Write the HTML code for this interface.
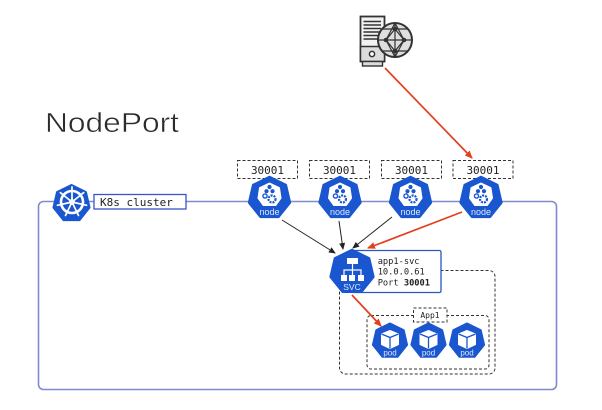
<!DOCTYPE html>
<html>
<head>
<meta charset="utf-8">
<style>
html,body{margin:0;padding:0;background:#fff;width:602px;height:410px;overflow:hidden}
svg{display:block;filter:blur(.25px)}
.m{font-family:"DejaVu Sans Mono","Liberation Mono",monospace;fill:#222}
.s{font-family:"Liberation Sans",sans-serif;fill:#dfe8fb;text-anchor:middle}
.h{fill:#1a56cf;stroke:#1a56cf;stroke-width:2.4;stroke-linejoin:round;vector-effect:non-scaling-stroke}
</style>
</head>
<body>
<svg width="602" height="410" viewBox="0 0 602 410" xmlns="http://www.w3.org/2000/svg">
<defs>
<polygon id="hep" class="h" points="0,-1 0.78,-0.62 0.975,0.22 0.43,0.9 -0.43,0.9 -0.975,0.22 -0.78,-0.62"/>
<g id="node">
  <use href="#hep" transform="scale(21)"/>
  <polygon points="0,-14.5 9.5,-10 11,0 6,7 -6,7 -11,0 -9.5,-10" fill="#fff" stroke="#fff" stroke-width="2" stroke-linejoin="round"/>
  <circle cx="0" cy="-11" r="2.1" fill="#1a56cf"/>
  <circle cx="-3" cy="-6.8" r="2.1" fill="#1a56cf"/>
  <circle cx="3" cy="-6.8" r="2.1" fill="#1a56cf"/>
  <circle cx="-4.5" cy="-2" r="2.1" fill="none" stroke="#1a56cf" stroke-width="1.4"/>
  <circle cx="2.5" cy="1" r="3.5" fill="none" stroke="#1a56cf" stroke-width="2.2" stroke-dasharray="2 1"/>
  <text class="s" x="0" y="17" font-size="9">node</text>
</g>
<g id="pod">
  <use href="#hep" transform="scale(17.3)"/>
  <path d="M0,-10.5 L8.5,-7 V3.5 L0,7.5 L-8.5,3.5 V-7 Z" fill="#fff" stroke="#fff" stroke-width="1" stroke-linejoin="round"/>
  <path d="M-8.5,-7 L0,-3.5 L8.5,-7 M0,-3.5 V7.5" fill="none" stroke="#1a56cf" stroke-width="1.3"/>
  <text class="s" x="0" y="14.5" font-size="8">pod</text>
</g>
<marker id="ab" markerWidth="7" markerHeight="7" refX="6" refY="3" orient="auto" markerUnits="userSpaceOnUse"><path d="M0,0 L7,3 L0,6 Z" fill="#222"/></marker>
<marker id="ar" markerWidth="8" markerHeight="8" refX="7" refY="3.5" orient="auto" markerUnits="userSpaceOnUse"><path d="M0,0 L8,3.5 L0,7 Z" fill="#e2401f"/></marker>
</defs>

<text x="45" y="132" font-family="Liberation Sans,sans-serif" font-size="28" fill="#2c2c2c" stroke="#fff" stroke-width=".5" paint-order="fill" textLength="134" lengthAdjust="spacingAndGlyphs">NodePort</text>

<!-- cluster -->
<rect x="38.5" y="201.5" width="518" height="188" rx="5" fill="none" stroke="#7f8acd" stroke-width="1.6"/>

<!-- server -->
<g stroke="#333" fill="none">
  <rect x="360.5" y="16.5" width="24" height="45" fill="#f2f2f2" stroke-width="1.8"/>
  <rect x="360.5" y="46.5" width="24" height="15" fill="#dcdcdc" stroke-width="1.5"/>
  <rect x="362.5" y="61.5" width="20" height="4.5" fill="#dcdcdc" stroke-width="1.4"/>
  <path d="M363.5,21.5H381M363.5,25H381M363.5,28.5H381M363.5,32H381M363.5,35.5H381M363.5,39H381" stroke-width="1.5"/>
  <circle cx="372" cy="54" r="2.6" fill="#fff" stroke-width="1.5"/>
  <circle cx="395" cy="40" r="17" fill="#dedede" stroke-width="2"/>
  <path d="M395,23L386,40L395,57L404,40ZM395,29L386,40L395,51L404,40ZM378,40H412M395,23V57M382,29L395,29L408,29M382,51L395,51L408,51" stroke-width="1.2"/>
  <g fill="#333" stroke="none"><circle cx="395" cy="29" r="2.3"/><circle cx="386" cy="40" r="2.3"/><circle cx="404" cy="40" r="2.3"/><circle cx="395" cy="51" r="2.3"/></g>
</g>

<!-- dashed port boxes -->
<g fill="#fff" stroke="#333" stroke-width="1" stroke-dasharray="3 2">
  <rect x="237.5" y="160.5" width="60" height="18"/>
  <rect x="309.5" y="160.5" width="60" height="18"/>
  <rect x="381.5" y="160.5" width="60" height="18"/>
  <rect x="453" y="160.5" width="60" height="18"/>
</g>
<g class="m" font-size="11" text-anchor="middle">
  <text x="267.5" y="174">30001</text>
  <text x="339.5" y="174">30001</text>
  <text x="411.5" y="174">30001</text>
  <text x="483" y="174">30001</text>
</g>

<!-- k8s -->
<use href="#hep" transform="translate(71.5,203.5) scale(18.3)"/>
<g transform="translate(72,202)" stroke="#fff" fill="none">
  <circle r="11" stroke-width="2.6"/>
  <path d="M0,-15V0M11.7,-9.4L0,0M14.6,3.3L0,0M6.5,13.5L0,0M-6.5,13.5L0,0M-14.6,3.3L0,0M-11.7,-9.4L0,0" stroke-width="1.7" stroke-linecap="round"/>
  <circle r="3" fill="#fff" stroke="none"/>
</g>
<rect x="94" y="194.5" width="92" height="14.5" fill="#fff" stroke="#3c55c4" stroke-width="1.3"/>
<text class="m" x="100" y="206" font-size="11">K8s cluster</text>

<!-- nodes -->
<use href="#node" x="269.5" y="198"/>
<use href="#node" x="340" y="198"/>
<use href="#node" x="410.5" y="198"/>
<use href="#node" x="481" y="198"/>

<!-- app dashed -->
<rect x="339.5" y="270.5" width="155.5" height="103.5" rx="6" fill="none" stroke="#333" stroke-width="1" stroke-dasharray="3 2"/>
<rect x="367" y="315.5" width="122" height="53.5" rx="4" fill="none" stroke="#333" stroke-width="1" stroke-dasharray="3 2"/>
<rect x="413.5" y="308" width="33.5" height="14" fill="#fff" stroke="#333" stroke-width="1" stroke-dasharray="3 2"/>
<text class="m" x="430" y="318" font-size="8" text-anchor="middle">App1</text>

<!-- svc box -->
<rect x="352" y="250.5" width="89" height="42" rx="1.5" fill="#fff" stroke="#2a55c8" stroke-width="1.3"/>
<g class="m" font-size="8.7">
  <text x="377.7" y="264">app1-svc</text>
  <text x="377.7" y="274.5">10.0.0.61</text>
  <text x="377.7" y="285.5">Port <tspan font-weight="bold">30001</tspan></text>
</g>
<use href="#hep" transform="translate(352,272) scale(22)"/>
<g fill="#fff" stroke="#fff">
  <rect x="347" y="258" width="11" height="6" stroke="none"/>
  <rect x="341" y="275" width="6" height="6" stroke="none"/>
  <rect x="349" y="275" width="6" height="6" stroke="none"/>
  <rect x="358" y="275" width="6" height="6" stroke="none"/>
  <path d="M352.5,264V275M344,275V270H361V275" fill="none" stroke-width="1.2"/>
</g>
<text class="s" x="352" y="290" font-size="8.5">SVC</text>

<!-- pods -->
<use href="#pod" x="390" y="341"/>
<use href="#pod" x="428.5" y="341"/>
<use href="#pod" x="467" y="341"/>

<!-- connectors -->
<g stroke="#222" stroke-width="1" fill="none">
  <line x1="282" y1="220" x2="335" y2="253" marker-end="url(#ab)"/>
  <line x1="339" y1="221" x2="343" y2="249" marker-end="url(#ab)"/>
  <line x1="392" y1="217" x2="353" y2="248" marker-end="url(#ab)"/>
</g>
<g stroke="#e2401f" stroke-width="1.7" fill="none">
  <line x1="385" y1="68" x2="472" y2="158" marker-end="url(#ar)"/>
  <line x1="462" y1="212" x2="368" y2="248" marker-end="url(#ar)"/>
  <line x1="352" y1="295" x2="381" y2="326" marker-end="url(#ar)"/>
</g>
</svg>
</body>
</html>
